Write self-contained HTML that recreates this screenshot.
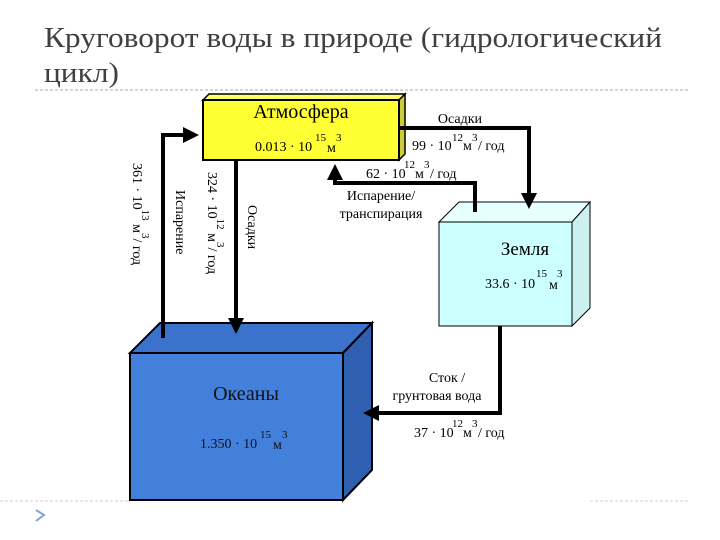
<!DOCTYPE html>
<html><head><meta charset="utf-8"><style>
html,body{margin:0;padding:0;background:#fff;width:720px;height:540px;overflow:hidden}
svg text{font-family:"Liberation Serif",serif}
</style></head><body>
<svg width="720" height="540" viewBox="0 0 720 540" xmlns="http://www.w3.org/2000/svg">
<defs>
<marker id="a" markerWidth="4" markerHeight="4" refX="3" refY="2" orient="auto" markerUnits="strokeWidth"><path d="M0,0 L4,2 L0,4 z" fill="#000"/></marker>
</defs>
<text x="44" y="47" font-size="28" fill="#404040" textLength="618" lengthAdjust="spacingAndGlyphs">Круговорот воды в природе (гидрологический</text>
<text x="44" y="82" font-size="28" fill="#404040" textLength="75" lengthAdjust="spacingAndGlyphs">цикл)</text>
<line x1="35" y1="90" x2="690" y2="90" stroke="#aaa" stroke-dasharray="3,2"/>
<line x1="0" y1="501" x2="130" y2="501" stroke="#ccc" stroke-dasharray="3,2"/>
<line x1="590" y1="501" x2="690" y2="501" stroke="#ccc" stroke-dasharray="3,2"/>
<path d="M36,510 L44,515 L36,521" fill="none" stroke="#7ea6d8" stroke-width="2"/>

<!-- Atmosphere -->
<polygon points="203,100 209,94 405,94 399,100" fill="#ffff66" stroke="#000" stroke-width="1.5"/>
<polygon points="399,100 405,94 405,154 399,160" fill="#cccc33" stroke="#000" stroke-width="1.5"/>
<rect x="203" y="100" width="196" height="60" fill="#ffff33" stroke="#000" stroke-width="2"/>
<text x="301" y="118" font-size="20" text-anchor="middle">Атмосфера</text>
<text x="255" y="151" font-size="14">0.013 · 10</text>
<text x="315" y="141" font-size="11">15</text><text x="327" y="152" font-size="14">м</text><text x="336" y="141" font-size="11">3</text>

<!-- Zemlya -->
<polygon points="439,222 459,202 590,202 572,222" fill="#e6ffff" stroke="#000" stroke-width="1"/>
<polygon points="572,222 590,202 590,308 572,326" fill="#ccf0f0" stroke="#000" stroke-width="1"/>
<rect x="439" y="222" width="133" height="104" fill="#ccffff" stroke="#000" stroke-width="1"/>
<text x="525" y="255" font-size="19" text-anchor="middle">Земля</text>
<text x="485" y="288" font-size="14">33.6 · 10</text>
<text x="536" y="277" font-size="11">15</text><text x="549" y="289" font-size="14">м</text><text x="557" y="277" font-size="11">3</text>

<!-- Oceans -->
<polygon points="130,353 160,323 372,323 343,353" fill="#3a72cc" stroke="#000" stroke-width="2"/>
<polygon points="343,353 372,323 372,470 343,500" fill="#2f5fb0" stroke="#000" stroke-width="2"/>
<rect x="130" y="353" width="213" height="147" fill="#4380dc" stroke="#000" stroke-width="2"/>
<text x="246" y="400" font-size="20" text-anchor="middle" fill="#111">Океаны</text>
<text x="200" y="448" font-size="14" fill="#111">1.350 · 10</text>
<text x="260" y="438" font-size="11" fill="#111">15</text><text x="273" y="449" font-size="14" fill="#111">м</text><text x="282" y="438" font-size="11" fill="#111">3</text>

<!-- Connectors -->
<g fill="none" stroke="#000" stroke-width="4">
<path d="M163,338 V135 H195" marker-end="url(#a)"/>
<path d="M236,160 V330" marker-end="url(#a)"/>
<path d="M399,128 H529 V205" marker-end="url(#a)"/>
<path d="M475,212 V183 H335 V168" marker-end="url(#a)"/>
<path d="M500,326 V413 H367" marker-end="url(#a)"/>
</g>

<!-- Labels -->
<text x="460" y="123" font-size="14" text-anchor="middle">Осадки</text>
<text x="412" y="150" font-size="14">99 · 10</text><text x="452" y="141" font-size="11">12</text><text x="463" y="150" font-size="14">м</text><text x="472" y="141" font-size="11">3</text><text x="478" y="150" font-size="14">/ год</text>
<text x="366" y="178" font-size="14">62 · 10</text><text x="404" y="168" font-size="11">12</text><text x="415" y="178" font-size="14">м</text><text x="424" y="168" font-size="11">3</text><text x="430" y="178" font-size="14">/ год</text>
<text x="381" y="200" font-size="14" text-anchor="middle">Испарение/</text>
<text x="381" y="218" font-size="14" text-anchor="middle">транспирация</text>
<text x="447" y="382" font-size="14" text-anchor="middle">Сток /</text>
<text x="437" y="400" font-size="14" text-anchor="middle">грунтовая вода</text>
<text x="414" y="437" font-size="14">37 · 10</text><text x="452" y="427" font-size="11">12</text><text x="463" y="437" font-size="14">м</text><text x="472" y="427" font-size="11">3</text><text x="478" y="437" font-size="14">/ год</text>

<text transform="translate(133,163) rotate(90)" font-size="14">361 · 10<tspan font-size="11" dy="-9">13</tspan><tspan dy="9"> м</tspan><tspan font-size="11" dy="-9">3</tspan><tspan dy="9">/ год</tspan></text>
<text transform="translate(176,190) rotate(90)" font-size="14">Испарение</text>
<text transform="translate(208,172) rotate(90)" font-size="14">324 · 10<tspan font-size="11" dy="-9">12</tspan><tspan dy="9"> м</tspan><tspan font-size="11" dy="-9">3</tspan><tspan dy="9">/ год</tspan></text>
<text transform="translate(248,205) rotate(90)" font-size="14">Осадки</text>
</svg>
</body></html>
